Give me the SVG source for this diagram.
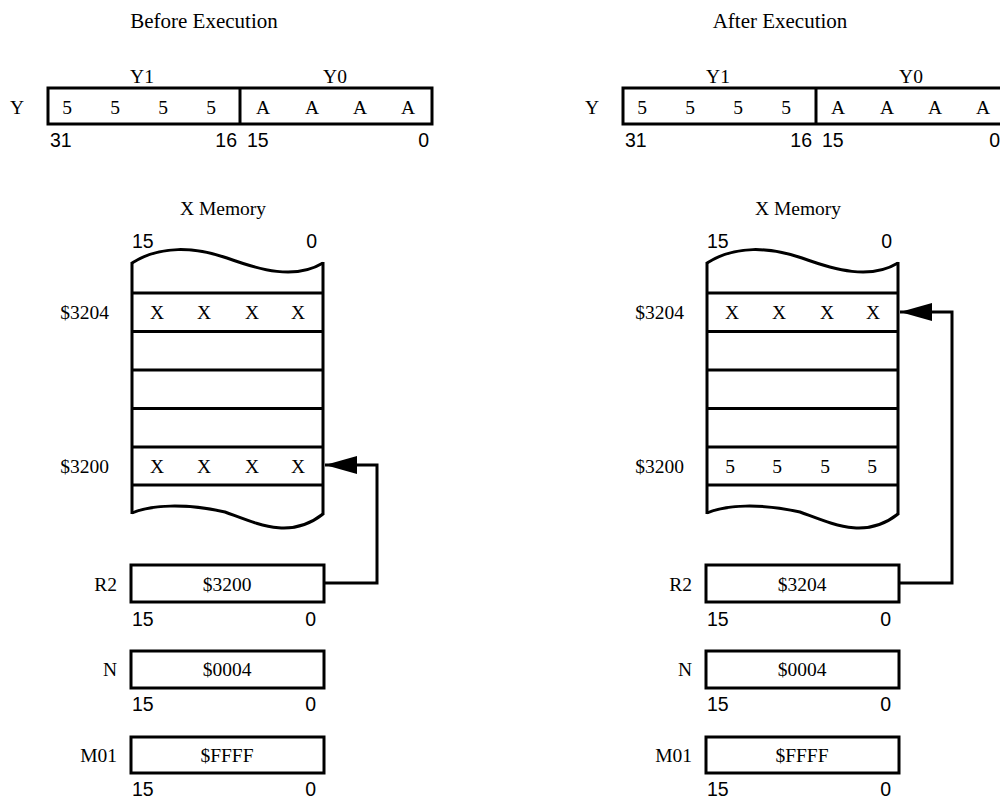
<svg xmlns="http://www.w3.org/2000/svg" width="1000" height="798" viewBox="0 0 1000 798">
<style>
.s{font-family:"Liberation Serif","Times New Roman",serif;font-size:19.5px;fill:#000}
.t{font-family:"Liberation Serif","Times New Roman",serif;font-size:21px;fill:#000}
.n{font-family:"Liberation Sans",Arial,sans-serif;font-size:19.5px;fill:#000}
.m{text-anchor:middle}
.e{text-anchor:end}
.b{fill:#fff;stroke:#000;stroke-width:3}
.l{fill:none;stroke:#000;stroke-width:3}
</style>
<defs>
<marker id="ah" viewBox="0 0 32 18" refX="32" refY="9" markerWidth="32" markerHeight="18" markerUnits="userSpaceOnUse" orient="auto">
<path d="M0,0 L32,9 L0,18 z" fill="#000"/>
</marker>
<g id="mem">
<path class="l" d="M132,263 C160,245 195,247 227,258 C260,270 295,280 323,263"/>
<path class="l" d="M132,513 C150,505 185,503 225,512 C258,524 290,540 323,514"/>
<path class="l" d="M132,262 V514 M323,262 V515 M132,293 H323 M132,331.5 H323 M132,370 H323 M132,408.5 H323 M132,447 H323 M132,485 H323"/>
</g>
</defs>

<!-- BEFORE -->
<text class="t m" x="204" y="28">Before Execution</text>
<g id="y-before">
<text class="s m" x="142" y="83">Y1</text>
<text class="s m" x="335" y="83">Y0</text>
<text class="s m" x="17" y="114">Y</text>
<rect class="b" x="48" y="88" width="384" height="36"/>
<path class="l" d="M240,88 V124"/>
<text class="s m" x="67" y="114">5</text>
<text class="s m" x="115" y="114">5</text>
<text class="s m" x="163" y="114">5</text>
<text class="s m" x="211" y="114">5</text>
<text class="s m" x="263" y="114">A</text>
<text class="s m" x="312" y="114">A</text>
<text class="s m" x="360" y="114">A</text>
<text class="s m" x="408" y="114">A</text>
<text class="n" x="50" y="147">31</text>
<text class="n e" x="237" y="147">16</text>
<text class="n" x="247" y="147">15</text>
<text class="n e" x="429" y="147">0</text>
</g>
<g id="xmem-before">
<text class="s m" x="223" y="215">X Memory</text>
<text class="n" x="132" y="248">15</text>
<text class="n e" x="317" y="248">0</text>
<use href="#mem"/>
<text class="s e" x="109" y="319">$3204</text>
<text class="s m" x="157" y="319">X</text>
<text class="s m" x="204" y="319">X</text>
<text class="s m" x="252" y="319">X</text>
<text class="s m" x="298" y="319">X</text>
<text class="s e" x="109" y="473">$3200</text>
<text class="s m" x="157" y="473">X</text>
<text class="s m" x="204" y="473">X</text>
<text class="s m" x="252" y="473">X</text>
<text class="s m" x="298" y="473">X</text>
</g>
<g id="r2-before">
<text class="s e" x="117" y="591">R2</text>
<rect class="b" x="131" y="565" width="193" height="37"/>
<text class="s m" x="227" y="591">$3200</text>
<text class="n" x="132" y="626">15</text>
<text class="n e" x="316" y="626">0</text>
</g>
<g id="n-before">
<text class="s e" x="117" y="676">N</text>
<rect class="b" x="131" y="651" width="193" height="37"/>
<text class="s m" x="227" y="676">$0004</text>
<text class="n" x="132" y="711">15</text>
<text class="n e" x="316" y="711">0</text>
</g>
<g id="m01-before">
<text class="s e" x="117" y="762">M01</text>
<rect class="b" x="131" y="737" width="193" height="36"/>
<text class="s m" x="227" y="762">$FFFF</text>
<text class="n" x="132" y="796">15</text>
<text class="n e" x="316" y="796">0</text>
</g>

<!-- AFTER -->
<text class="t m" x="780" y="28">After Execution</text>
<g id="y-after">
<text class="s m" x="718" y="83">Y1</text>
<text class="s m" x="911" y="83">Y0</text>
<text class="s m" x="592" y="114">Y</text>
<rect class="b" x="623" y="88" width="384" height="36"/>
<path class="l" d="M816,88 V124"/>
<text class="s m" x="642" y="114">5</text>
<text class="s m" x="690" y="114">5</text>
<text class="s m" x="738" y="114">5</text>
<text class="s m" x="786" y="114">5</text>
<text class="s m" x="838" y="114">A</text>
<text class="s m" x="887" y="114">A</text>
<text class="s m" x="935" y="114">A</text>
<text class="s m" x="983" y="114">A</text>
<text class="n" x="625" y="147">31</text>
<text class="n e" x="812" y="147">16</text>
<text class="n" x="822" y="147">15</text>
<text class="n e" x="1000" y="147">0</text>
</g>
<g id="xmem-after">
<text class="s m" x="798" y="215">X Memory</text>
<text class="n" x="707" y="248">15</text>
<text class="n e" x="892" y="248">0</text>
<use href="#mem" transform="translate(575,0)"/>
<text class="s e" x="684" y="319">$3204</text>
<text class="s m" x="732" y="319">X</text>
<text class="s m" x="779" y="319">X</text>
<text class="s m" x="827" y="319">X</text>
<text class="s m" x="873" y="319">X</text>
<text class="s e" x="684" y="473">$3200</text>
<text class="s m" x="730" y="473">5</text>
<text class="s m" x="777" y="473">5</text>
<text class="s m" x="825" y="473">5</text>
<text class="s m" x="872" y="473">5</text>
</g>
<g id="r2-after">
<text class="s e" x="692" y="591">R2</text>
<rect class="b" x="706" y="565" width="193" height="37"/>
<text class="s m" x="802" y="591">$3204</text>
<text class="n" x="707" y="626">15</text>
<text class="n e" x="891" y="626">0</text>
</g>
<g id="n-after">
<text class="s e" x="692" y="676">N</text>
<rect class="b" x="706" y="651" width="193" height="37"/>
<text class="s m" x="802" y="676">$0004</text>
<text class="n" x="707" y="711">15</text>
<text class="n e" x="891" y="711">0</text>
</g>
<g id="m01-after">
<text class="s e" x="692" y="762">M01</text>
<rect class="b" x="706" y="737" width="193" height="36"/>
<text class="s m" x="802" y="762">$FFFF</text>
<text class="n" x="707" y="796">15</text>
<text class="n e" x="891" y="796">0</text>
</g>

<g id="connectors">
<path class="l" d="M324,583 H377 V465 H325" marker-end="url(#ah)"/>
<path class="l" d="M899,583 H952 V312 H900" marker-end="url(#ah)"/>
</g>
</svg>
